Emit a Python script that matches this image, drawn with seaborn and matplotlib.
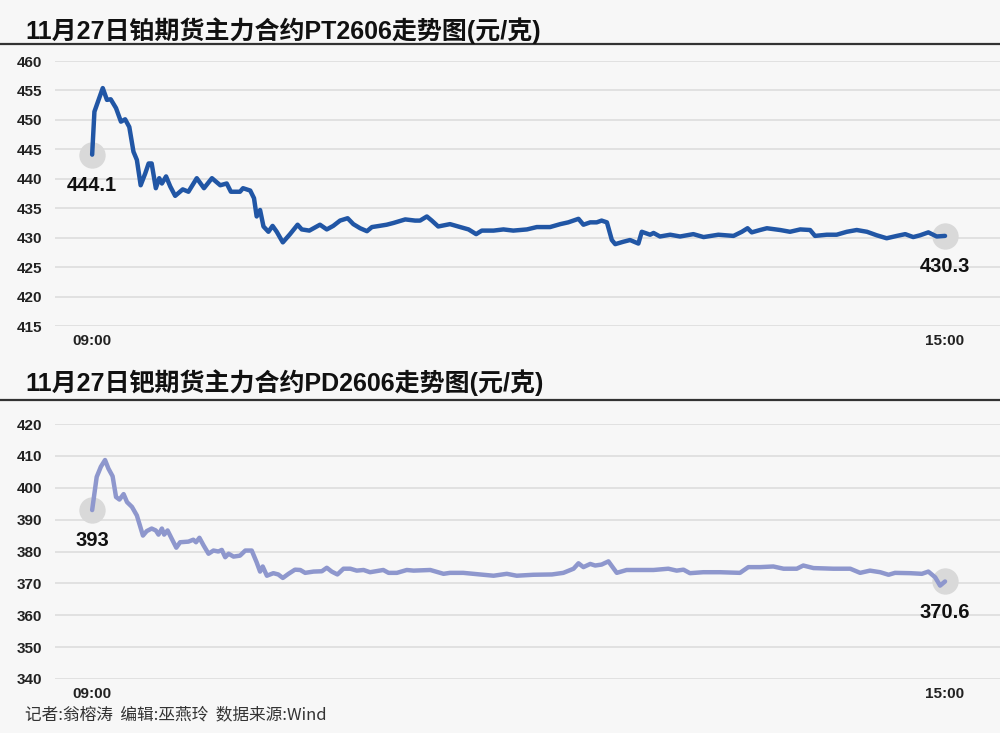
import matplotlib.pyplot as plt
import seaborn as sns
import pandas as pd
from matplotlib.lines import Line2D

# trading minutes since 09:00 (0 .. 225 = 15:00) and prices
pt_minutes = [0.0, 0.6, 2.8, 3.9, 4.9, 6.3, 7.6, 8.7, 9.8, 10.9, 11.8, 12.8, 14.0, 14.9, 15.7,
              16.8, 17.7, 18.4, 19.5, 20.6, 21.9, 23.9, 25.4, 27.6, 29.5, 31.6, 33.8, 35.5,
              36.6, 39.0, 39.8, 41.7, 42.7, 43.4, 44.3, 45.2, 46.5, 47.6, 48.7, 50.3, 52.2,
              54.2, 55.3, 57.3, 60.1, 61.9, 63.6, 65.4, 67.4, 68.9, 70.7, 72.5, 73.8, 75.8,
              77.7, 79.5, 82.6, 85.2, 86.5, 88.3, 89.6, 91.3, 94.4, 97.1, 99.3, 101.3, 102.8,
              105.9, 108.5, 111.1, 114.7, 117.3, 120.8, 123.5, 125.6, 128.3, 129.6, 131.4,
              133.1, 134.4, 135.8, 137.1, 138.0, 140.1, 141.9, 144.1, 145.0, 147.2, 148.1,
              149.8, 152.5, 155.1, 158.6, 161.3, 165.2, 169.2, 171.4, 172.9, 174.0, 176.2,
              178.0, 181.5, 184.1, 186.8, 189.4, 190.7, 193.8, 196.4, 199.1, 201.7, 204.4,
              207.0, 209.6, 212.3, 214.5, 216.6, 218.4, 220.6, 222.8, 225.0]
pt_prices = [444.1, 451.4, 455.4, 453.4, 453.5, 452.0, 449.7, 450.1, 448.8, 444.6, 443.2,
             438.9, 440.9, 442.6, 442.6, 438.4, 440.1, 439.2, 440.4, 438.7, 437.1, 438.2,
             437.8, 440.1, 438.4, 440.1, 438.9, 439.2, 437.8, 437.8, 438.4, 438.0, 436.7,
             433.6, 434.7, 431.9, 431.0, 432.0, 431.0, 429.2, 430.6, 432.2, 431.4, 431.2,
             432.2, 431.4, 432.0, 432.9, 433.3, 432.3, 431.6, 431.1, 431.8, 432.0, 432.2,
             432.5, 433.1, 432.9, 432.9, 433.6, 432.9, 431.9, 432.3, 431.8, 431.4, 430.6,
             431.2, 431.2, 431.4, 431.2, 431.4, 431.8, 431.8, 432.3, 432.6, 433.2, 432.2,
             432.6, 432.6, 432.9, 432.6, 429.6, 428.9, 429.3, 429.6, 429.0, 431.0, 430.5,
             430.8, 430.2, 430.5, 430.2, 430.6, 430.1, 430.5, 430.3, 431.0, 431.6, 430.9,
             431.3, 431.6, 431.3, 431.0, 431.4, 431.3, 430.3, 430.5, 430.5, 431.0, 431.3,
             431.0, 430.4, 429.9, 430.3, 430.6, 430.1, 430.4, 430.9, 430.2, 430.3]

pd_minutes = [0.0, 1.2, 2.3, 3.4, 4.3, 5.4, 6.3, 7.2, 8.3, 9.2, 10.5, 11.8, 13.4, 14.4, 15.7,
              16.8, 17.5, 18.4, 19.0, 19.9, 21.0, 22.2, 23.2, 25.4, 26.7, 27.4, 28.3, 29.4,
              30.7, 32.0, 33.3, 34.2, 35.1, 36.0, 37.3, 39.0, 40.4, 42.1, 43.4, 44.3, 45.0,
              46.1, 47.8, 49.1, 50.3, 51.8, 53.5, 54.9, 56.2, 58.4, 60.6, 61.9, 63.2, 64.7,
              66.3, 68.1, 69.8, 71.6, 73.3, 75.8, 76.8, 78.2, 80.4, 83.0, 84.8, 89.2, 92.7,
              94.4, 97.9, 102.3, 105.9, 109.4, 112.0, 116.4, 121.3, 124.3, 127.0, 128.3,
              129.6, 131.4, 132.7, 134.4, 136.2, 138.4, 141.0, 144.6, 148.1, 152.0, 154.2,
              156.0, 157.7, 161.2, 165.7, 170.9, 173.1, 176.2, 179.7, 182.4, 185.9, 187.6,
              190.3, 195.5, 200.0, 202.6, 205.2, 207.9, 210.1, 211.8, 215.8, 218.9, 220.6,
              222.4, 223.7, 225.0]
pd_prices = [393.0, 403.4, 406.6, 408.7, 406.0, 403.6, 397.1, 396.3, 398.0, 395.5, 394.0,
             391.3, 385.0, 386.4, 387.2, 386.6, 385.3, 387.2, 385.3, 386.6, 384.0, 381.2,
             382.9, 383.1, 383.7, 382.9, 384.3, 381.9, 379.3, 380.3, 380.0, 380.5, 378.2,
             379.3, 378.4, 378.7, 380.3, 380.3, 376.6, 373.7, 375.3, 372.4, 373.2, 372.8,
             371.7, 373.0, 374.3, 374.2, 373.3, 373.7, 373.8, 374.9, 373.7, 372.8, 374.6,
             374.6, 374.0, 374.2, 373.5, 374.0, 374.2, 373.3, 373.3, 374.2, 374.0, 374.2,
             373.0, 373.3, 373.3, 372.8, 372.4, 373.0, 372.4, 372.7, 372.8, 373.3, 374.6,
             376.3, 375.1, 376.1, 375.6, 375.9, 376.9, 373.3, 374.2, 374.2, 374.2, 374.6,
             374.0, 374.3, 373.2, 373.5, 373.5, 373.3, 375.1, 375.1, 375.3, 374.6, 374.6,
             375.6, 374.8, 374.6, 374.6, 373.3, 374.0, 373.5, 372.7, 373.3, 373.2, 373.0,
             373.7, 371.9, 369.3, 370.6]

time_ticks = [0, 225]
time_labels = ["09:00", "15:00"]
pt_yticks = [415, 420, 425, 430, 435, 440, 445, 450, 455, 460]
pd_yticks = [340, 350, 360, 370, 380, 390, 400, 410, 420]

pt_title = "11月27日铂期货主力合约PT2606走势图(元/克)"
pd_title = "11月27日钯期货主力合约PD2606走势图(元/克)"
footer = "记者:翁榕涛  编辑:巫燕玲  数据来源:Wind"

sns.set_theme(style="white")
plt.rcParams['font.family'] = ['Liberation Sans', 'Noto Sans CJK SC', 'DejaVu Sans']

bg = '#f7f7f7'
narrow = ['Liberation Sans Narrow', 'Liberation Sans', 'DejaVu Sans']

fig = plt.figure(figsize=(10, 7.33), dpi=100, facecolor=bg)
H = 733.0


def panel(ax, minutes, prices, yticks, color):
    ax.set_facecolor(bg)
    df = pd.DataFrame({"t": minutes, "price": prices})
    sns.lineplot(data=df, x="t", y="price", ax=ax, color=color, lw=3.2,
                 clip_on=False, zorder=3)
    # grey dots on first and last value
    ax.scatter([minutes[0], minutes[-1]], [prices[0], prices[-1]], s=360,
               color='#d9d9d9', zorder=2, clip_on=False, linewidths=0)
    for t, p in [(minutes[0], prices[0]), (minutes[-1], prices[-1])]:
        ax.annotate(f"{p:g}", (t, p), xytext=(0, -22), textcoords='offset points',
                    ha='center', va='center', fontsize=14.5, fontweight='bold',
                    color='#111111', family=narrow)
    ax.set_xlim(-9.8, 239.5)
    ax.set_ylim(yticks[0], yticks[-1])
    ax.set_yticks(yticks, labels=[str(v) for v in yticks], fontsize=11,
                  fontweight='bold', family=narrow, color='#222222')
    ax.set_xticks(time_ticks, labels=time_labels, fontsize=11,
                  fontweight='bold', family=narrow, color='#222222')
    ax.tick_params(axis='y', length=0, pad=9)
    ax.tick_params(axis='x', length=0, pad=6)
    ax.grid(axis='y', color='#dddddd', lw=1.2)
    ax.grid(axis='x', visible=False)
    ax.set_axisbelow(True)
    ax.set_xlabel("")
    ax.set_ylabel("")
    sns.despine(ax=ax, left=True, bottom=True)


ax1 = fig.add_axes([0.055, 1 - 326 / H, 0.945, (326 - 61) / H])
panel(ax1, pt_minutes, pt_prices, pt_yticks, '#2156a5')

ax2 = fig.add_axes([0.055, 1 - 679 / H, 0.945, (679 - 424) / H])
panel(ax2, pd_minutes, pd_prices, pd_yticks, '#8e97cd')

# titles with rule underneath
for ytxt, yline, title in [(31, 44, pt_title), (383, 400, pd_title)]:
    fig.text(0.025, 1 - ytxt / H, title, fontsize=18, fontweight='bold',
             ha='left', va='center', color='#111111')
    fig.add_artist(Line2D([0, 1], [1 - yline / H] * 2, color='#333333', lw=1.6))

fig.text(0.025, 1 - 715 / H, footer, fontsize=12, ha='left', va='center',
         color='#333333', family=['Noto Sans CJK SC', 'DejaVu Sans'])

fig.savefig("out.png", dpi=100, facecolor=bg)
plt.close()
